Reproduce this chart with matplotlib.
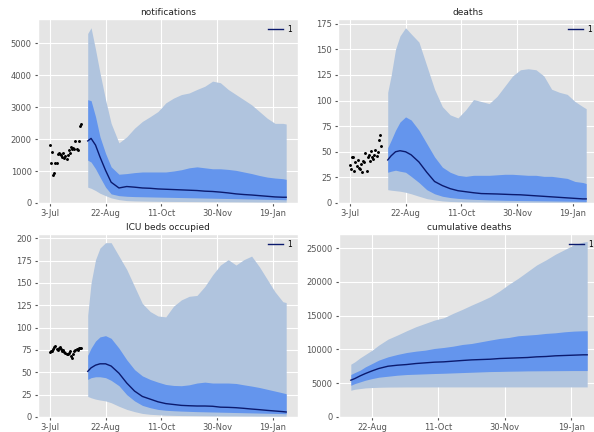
import matplotlib
matplotlib.use("Agg")
import matplotlib.pyplot as plt
from matplotlib.ticker import MultipleLocator
import pandas as pd
import numpy as np

plt.style.use("ggplot")

# ---------------- data ----------------
obs_dates = pd.date_range("2020-07-03", "2020-07-31", freq="D")

fc_dates = pd.to_datetime([
    "2020-08-06", "2020-08-09", "2020-08-13", "2020-08-17", "2020-08-22", "2020-08-27",
    "2020-09-03", "2020-09-10", "2020-09-17", "2020-09-24", "2020-10-01", "2020-10-08",
    "2020-10-15", "2020-10-22", "2020-10-29", "2020-11-05", "2020-11-12", "2020-11-19",
    "2020-11-26", "2020-12-03", "2020-12-10", "2020-12-17", "2020-12-24", "2020-12-31",
    "2021-01-07", "2021-01-14", "2021-01-21", "2021-01-28", "2021-01-31"])

tick_dates = pd.to_datetime(["2020-07-03", "2020-08-22", "2020-10-11", "2020-11-30", "2021-01-19"])
tick_labels = ["3-Jul", "22-Aug", "11-Oct", "30-Nov", "19-Jan"]

titles = ["notifications", "deaths", "ICU beds occupied", "cumulative deaths"]
legend_label = "1"

# notifications
notif_obs = [1800, 1250, 1580, 870, 950, 1250, 1260, 1530, 1550, 1520, 1500, 1450, 1560, 1420,
             1480, 1380, 1500, 1650, 1560, 1750, 1690, 1720, 1680, 1930, 1700, 1650, 1950, 2400, 2480]
notif_q95 = [5300, 5480, 4800, 4070, 3230, 2490, 1880, 2070, 2340, 2550, 2700, 2860, 3130, 3280,
             3390, 3440, 3550, 3650, 3810, 3760, 3550, 3390, 3230, 3070, 2860, 2650, 2490, 2490, 2470]
notif_q75 = [3230, 3200, 2700, 2070, 1550, 1130, 900, 920, 950, 970, 970, 970, 970, 1000,
             1040, 1100, 1130, 1100, 1070, 1070, 1050, 1020, 970, 920, 860, 810, 780, 760, 740]
notif_med = [1940, 2020, 1810, 1440, 1020, 650, 470, 515, 495, 470, 460, 440, 430, 420,
             410, 400, 390, 370, 360, 340, 315, 285, 265, 250, 230, 210, 190, 180, 180]
notif_q25 = [1340, 1280, 1070, 810, 495, 285, 230, 210, 200, 195, 190, 185, 180, 175,
             170, 165, 160, 155, 150, 145, 140, 135, 130, 125, 120, 115, 110, 105, 100]
notif_q05 = [495, 460, 390, 305, 230, 160, 105, 75, 65, 60, 55, 52, 50, 48,
             46, 44, 42, 40, 38, 36, 34, 32, 30, 28, 26, 25, 24, 23, 22]

# deaths
death_obs = [37, 33, 45, 45, 31, 40, 36, 42, 34, 33, 38, 30, 41, 40, 49, 31, 45, 47, 41, 51,
             45, 43, 47, 52, 46, 50, 61, 66, 56]
death_q95 = [108, 124, 150, 163, 171, 165, 157, 134, 111, 94, 86, 83, 91, 101,
             99, 97, 104, 114, 124, 130, 131, 130, 124, 111, 108, 106, 99, 94, 92]
death_q75 = [54, 61, 71, 79, 84, 81, 71, 58, 45, 35, 30, 27, 26, 27,
             27, 27, 27.5, 28, 28, 27.5, 27, 27, 26, 26, 25, 24, 21, 20, 19]
death_med = [42, 46, 50, 51, 50, 47, 40, 30, 21, 17, 14, 12, 11, 10,
             9.2, 9, 8.8, 8.5, 8.2, 8, 7.5, 7, 6.5, 6, 5.5, 5, 4.5, 4, 4]
death_q25 = [30, 31, 32, 31, 30, 26, 20, 13, 9, 6.6, 5.3, 4.5, 4, 3.6,
             3.3, 3, 2.8, 2.6, 2.5, 2.4, 2.3, 2.2, 2.1, 2, 1.9, 1.8, 1.7, 1.6, 1.5]
death_q05 = [13, 12.5, 12, 11.5, 10.5, 9, 6.6, 4.3, 3, 2, 1.5, 1.2, 1, 0.9,
             0.8, 0.7, 0.7, 0.6, 0.6, 0.5, 0.5, 0.5, 0.4, 0.4, 0.4, 0.3, 0.3, 0.3, 0.3]

# ICU beds occupied
icu_obs = [73, 74, 74, 76, 78, 79, 76, 75, 77, 78, 76, 74, 75, 73, 72, 71, 70, 72, 74, 68,
           66, 71, 74, 75, 76, 75, 77, 77, 77]
icu_q95 = [114, 150, 176, 189, 195, 195, 180, 165, 146, 127, 118, 113, 112, 124,
           131, 135, 136, 146, 159, 170, 176, 170, 176, 180, 168, 154, 140, 129, 128]
icu_q75 = [69, 77, 85, 89.6, 91, 88, 77, 64, 53, 46, 42, 39, 36.4, 35.3,
           35, 36, 38, 39, 38, 38, 38, 37.5, 36, 34.6, 33, 31, 29, 27, 26]
icu_med = [51, 55, 58, 59.5, 59.5, 57, 49, 38, 29, 23, 20, 17, 15, 14,
           13, 12.6, 12.3, 12.3, 12, 11, 10.8, 10.4, 9.7, 8.9, 8.2, 7.4, 6.7, 6, 5.6]
icu_q25 = [42, 44, 45, 45, 44, 41, 35, 25, 18, 13, 10.4, 8.5, 7.5, 7,
           6.6, 6.3, 6, 5.8, 5.6, 5.4, 5.2, 5, 4.8, 4.6, 4.4, 4.2, 4, 3.8, 3.6]
icu_q05 = [23, 21.5, 20, 19, 18, 16, 12, 8.5, 6, 4, 3, 2.5, 2, 1.8,
           1.6, 1.5, 1.4, 1.3, 1.2, 1.1, 1, 1, 0.9, 0.9, 0.8, 0.8, 0.7, 0.7, 0.7]

# cumulative deaths
cum_q95 = [7820, 8170, 8760, 9260, 9900, 10640, 11530, 12130, 12770, 13370, 13860, 14355, 14700, 15350,
           15940, 16580, 17180, 17820, 18660, 19650, 20540, 21530, 22520, 23270, 24100, 24800, 25500, 25900, 26000]
cum_q75 = [6290, 6580, 6930, 7430, 7920, 8420, 8910, 9260, 9550, 9750, 9900, 10150, 10300, 10490,
           10740, 10890, 11140, 11390, 11630, 11780, 12030, 12130, 12230, 12380, 12470, 12620, 12720, 12770, 12770]
cum_med = [5450, 5690, 6090, 6440, 6830, 7180, 7520, 7670, 7770, 7920, 8020, 8120, 8170, 8270,
           8370, 8460, 8510, 8560, 8660, 8710, 8760, 8810, 8910, 8960, 9060, 9110, 9160, 9210, 9210]
cum_q25 = [4700, 4950, 5200, 5450, 5690, 5890, 6040, 6190, 6290, 6340, 6390, 6440, 6480, 6530,
           6580, 6630, 6680, 6730, 6750, 6780, 6800, 6830, 6840, 6850, 6860, 6870, 6880, 6880, 6880]
cum_q05 = [3960, 4110, 4210, 4310, 4360, 4400, 4430, 4440, 4450, 4450, 4450, 4455, 4455, 4455,
           4455, 4455, 4455, 4455, 4455, 4455, 4455, 4455, 4455, 4455, 4455, 4455, 4455, 4455, 4455]

# ---------------- style ----------------
c_outer = "#b0c4de"
c_inner = "#6495ed"
c_med = "#0b1a6e"

W, H = 594, 432
fig = plt.figure(figsize=(W / 100, H / 100), dpi=100)

def px_axes(l, r, t, b):
    return fig.add_axes([l / W, 1 - b / H, (r - l) / W, (b - t) / H])

ax_tl = px_axes(38, 298, 19, 203)
ax_tr = px_axes(338, 598, 19, 203)
ax_bl = px_axes(38, 298, 234, 417)
ax_br = px_axes(339, 599, 234, 417)

panels = [
    (ax_tl, titles[0], notif_obs, notif_q05, notif_q25, notif_med, notif_q75, notif_q95, 1000),
    (ax_tr, titles[1], death_obs, death_q05, death_q25, death_med, death_q75, death_q95, 25),
    (ax_bl, titles[2], icu_obs, icu_q05, icu_q25, icu_med, icu_q75, icu_q95, 25),
    (ax_br, titles[3], None, cum_q05, cum_q25, cum_med, cum_q75, cum_q95, 5000),
]

for ax, title, obs, q05, q25, med, q75, q95, ystep in panels:
    ax.fill_between(fc_dates, q05, q95, color=c_outer, linewidth=0)
    ax.fill_between(fc_dates, q25, q75, color=c_inner, linewidth=0)
    ax.plot(fc_dates, med, color=c_med, linewidth=1.0, label=legend_label)
    if obs is not None:
        ax.plot(obs_dates, obs, ".", color="black", markersize=2.2)
    ax.set_ylim(bottom=0)
    ax.yaxis.set_major_locator(MultipleLocator(ystep))
    lo, hi = ax.get_xlim()
    keep = [(d, l) for d, l in zip(tick_dates, tick_labels)
            if lo <= matplotlib.dates.date2num(d) <= hi]
    ax.set_xticks([d for d, _ in keep])
    ax.set_xticklabels([l for _, l in keep])
    ax.tick_params(labelsize=6, length=2.5, pad=2, colors="#555555")
    ax.set_title(title, fontsize=6.5, pad=3, color="#222222")
    leg = ax.legend(loc="upper right", fontsize=5.5, handlelength=2.0,
                    borderpad=0.3, handletextpad=0.5, frameon=False)

fig.savefig("out.png", dpi=100)
